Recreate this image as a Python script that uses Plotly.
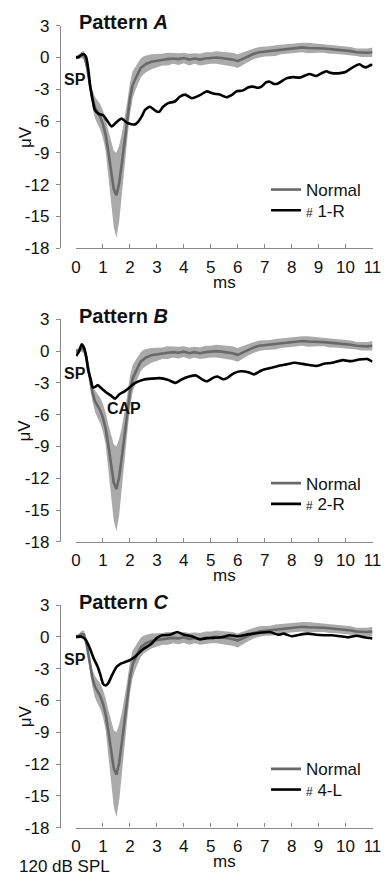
import numpy as np
import plotly.graph_objects as go

# ---------------- data ----------------
normal_ms = [0, 0.1, 0.2, 0.3, 0.4, 0.5, 0.6, 0.7, 0.8, 0.9, 1.0, 1.1, 1.2, 1.3, 1.4, 1.5,
             1.6, 1.7, 1.8, 1.9, 2.0, 2.1, 2.2, 2.3, 2.4, 2.5, 2.6, 2.8, 3.0, 3.2, 3.4,
             3.6, 3.8, 4.0, 4.2, 4.4, 4.6, 4.8, 5.0, 5.2, 5.4, 5.6, 5.8, 6.0, 6.2, 6.4,
             6.6, 6.8, 7.0, 7.2, 7.4, 7.6, 7.8, 8.0, 8.2, 8.4, 8.6, 8.8, 9.0, 9.2, 9.4,
             9.6, 9.8, 10.0, 10.2, 10.4, 10.6, 10.8, 11.0]
normal_mean = [0.0, 0.05, 0.25, 0.2, -0.8, -2.4, -3.8, -4.7, -5.2, -5.6, -6.3, -7.3, -8.9,
               -10.8, -12.4, -13.0, -11.9, -10.0, -8.0, -6.0, -3.9, -2.6, -2.0, -1.5, -1.0,
               -0.75, -0.6, -0.4, -0.3, -0.2, -0.15, -0.1, -0.15, -0.05, -0.2, -0.1, -0.2,
               -0.1, -0.05, 0.0, -0.05, -0.1, -0.2, -0.35, -0.1, 0.15, 0.35, 0.5, 0.55, 0.6,
               0.65, 0.75, 0.8, 0.85, 0.9, 0.95, 0.9, 0.9, 0.9, 0.85, 0.8, 0.75, 0.7, 0.7,
               0.6, 0.5, 0.45, 0.45, 0.5]
normal_sem = [0.2, 0.2, 0.3, 0.4, 0.4, 0.6, 0.8, 1.0, 1.1, 1.2, 1.3, 1.5, 2.0, 2.8, 3.6, 4.0,
              3.6, 2.8, 2.2, 1.8, 1.5, 1.3, 1.1, 1.0, 0.9, 0.85, 0.8, 0.7, 0.6, 0.55, 0.6,
              0.5, 0.55, 0.5, 0.55, 0.5, 0.55, 0.6, 0.55, 0.6, 0.6, 0.65, 0.65, 0.65, 0.6,
              0.55, 0.5, 0.5, 0.45, 0.45, 0.5, 0.45, 0.45, 0.5, 0.45, 0.45, 0.5, 0.45, 0.45,
              0.4, 0.45, 0.4, 0.4, 0.4, 0.4, 0.35, 0.4, 0.4, 0.45]

a_ms = [0.0, 0.1, 0.2, 0.27, 0.37, 0.46, 0.52, 0.58, 0.64, 0.7, 0.83, 1.01, 1.14, 1.32, 1.5,
        1.69, 1.88, 2.06, 2.2, 2.31, 2.45, 2.56, 2.74, 2.99, 3.1, 3.23, 3.42, 3.67, 3.85,
        4.05, 4.3, 4.6, 4.84, 5.09, 5.33, 5.58, 5.8, 5.95, 6.2, 6.4, 6.57, 6.75, 6.88, 7.05,
        7.19, 7.35, 7.49, 7.8, 8.05, 8.3, 8.5, 8.67, 8.91, 9.1, 9.28, 9.45, 9.65, 9.85,
        10.02, 10.25, 10.52, 10.65, 10.76, 10.95, 11.0]
a_uv = [0.0, 0.05, 0.25, 0.33, 0.08, -1.2, -2.6, -3.5, -4.3, -4.95, -5.3, -5.45, -5.9, -6.5,
        -6.1, -5.75, -6.15, -6.3, -6.3, -6.05, -5.5, -4.95, -4.65, -5.1, -5.1, -4.65, -4.3,
        -4.15, -3.7, -3.5, -3.85, -3.55, -3.2, -3.4, -3.5, -3.75, -3.5, -3.2, -3.1, -2.8,
        -2.75, -2.85, -2.75, -2.35, -2.28, -2.5, -2.45, -1.97, -1.85, -1.9, -1.7, -1.56,
        -1.75, -1.5, -1.3, -1.45, -1.5, -1.45, -1.34, -0.95, -0.64, -0.85, -0.93, -0.7, -0.75]

b_ms = [0.0, 0.1, 0.21, 0.3, 0.37, 0.45, 0.55, 0.62, 0.7, 0.8, 0.92, 1.1, 1.3, 1.45, 1.6,
        1.8, 2.0, 2.2, 2.5, 2.8, 3.1, 3.4, 3.7, 3.9, 4.2, 4.45, 4.7, 4.85, 5.1, 5.25, 5.45,
        5.6, 5.85, 6.1, 6.4, 6.6, 6.9, 7.2, 7.5, 7.8, 8.1, 8.5, 8.9, 9.2, 9.5, 9.9, 10.2,
        10.5, 10.8, 11.0]
b_uv = [-0.45, -0.1, 0.65, 0.3, -0.4, -1.75, -2.7, -3.4, -3.4, -3.2, -3.45, -3.85, -4.2,
        -4.5, -4.1, -3.8, -3.4, -3.0, -2.7, -2.6, -2.55, -2.7, -3.0, -2.7, -2.4, -2.3, -2.7,
        -2.85, -2.5, -2.4, -2.65, -2.55, -2.1, -1.9, -2.0, -2.2, -1.8, -1.6, -1.4, -1.25,
        -1.1, -1.25, -1.4, -1.2, -1.1, -0.85, -0.95, -0.8, -0.75, -1.0]

c_ms = [0.0, 0.2, 0.35, 0.5, 0.65, 0.8, 0.9, 1.0, 1.1, 1.2, 1.35, 1.5, 1.65, 1.8, 2.0, 2.2,
        2.5, 2.8, 3.0, 3.2, 3.5, 3.75, 4.0, 4.3, 4.6, 4.8, 5.1, 5.4, 5.7, 6.0, 6.3, 6.6,
        6.9, 7.2, 7.5, 7.7, 8.0, 8.3, 8.6, 8.9, 9.2, 9.5, 9.8, 10.1, 10.4, 10.7, 11.0]
c_uv = [0.0, 0.0, -0.25, -1.0, -2.0, -2.8, -3.55, -4.4, -4.6, -4.35, -3.55, -2.85, -2.55,
        -2.4, -2.2, -1.85, -1.15, -0.65, -0.1, 0.15, 0.2, 0.45, 0.2, 0.05, -0.25, -0.15,
        -0.1, -0.05, 0.15, 0.05, 0.2, 0.3, 0.4, 0.45, 0.2, 0.3, 0.05, 0.2, 0.3, 0.2, 0.15,
        0.15, 0.05, -0.05, 0.1, -0.05, -0.15]

pattern_letters = ["A", "B", "C"]
patient_labels = ["1-R", "2-R", "4-L"]
x_tick_vals = list(range(0, 12))
x_tick_text = [str(v) for v in x_tick_vals]
y_tick_vals = [3, 0, -3, -6, -9, -12, -15, -18]
y_tick_text = ["3", "0", "-3", "-6", "-9", "-12", "-15", "-18"]

# ---------------- layout geometry ----------------
W, H = 385, 876
FONT = "Arial, Liberation Sans, sans-serif"
x0_px, x11_px, yaxis_px = 76.0, 372.5, 60.0
panel_top_px = [25.7, 319.3, 605.0]   # pixel row of y = 3
panel_h_px = 222.6                     # from y=3 to y=-18
AX_COL = "#8a8a8a"
BAND_COL = "rgb(170,170,170)"
MEAN_COL = "rgb(105,105,105)"
TXT = "#111"

def py(p):
    return 1 - p / H

fig = go.Figure()
mean = np.array(normal_mean)
sem = np.array(normal_sem)
upper = mean + sem
lower = mean - sem
patients = [(a_ms, a_uv), (b_ms, b_uv), (c_ms, c_uv)]

annotations = []
for i in range(3):
    sfx = "" if i == 0 else str(i + 1)
    xa, ya = "x" + sfx, "y" + sfx
    lg1 = "legend" if i == 0 else "legend%d" % (2 * i + 1)
    lg2 = "legend%d" % (2 * i + 2)
    top = panel_top_px[i]
    bot = top + panel_h_px

    fig.add_trace(go.Scatter(
        x=normal_ms + normal_ms[::-1], y=list(upper) + list(lower[::-1]),
        fill="toself", fillcolor=BAND_COL, line=dict(width=0, color=BAND_COL),
        mode="lines", showlegend=False, hoverinfo="skip", xaxis=xa, yaxis=ya))
    fig.add_trace(go.Scatter(
        x=normal_ms, y=normal_mean, mode="lines", name="Normal",
        line=dict(color=MEAN_COL, width=2.6), xaxis=xa, yaxis=ya, legend=lg1))
    pm, pv = patients[i]
    fig.add_trace(go.Scatter(
        x=pm, y=pv, mode="lines",
        name="<span style='font-size:12px'>#</span> " + patient_labels[i],
        line=dict(color="black", width=2.6, shape="spline", smoothing=0.6),
        xaxis=xa, yaxis=ya, legend=lg2))

    fig.layout["xaxis" + sfx] = dict(
        domain=[x0_px / W, x11_px / W], range=[0, 11], anchor=ya, automargin=False,
        tickvals=x_tick_vals, ticktext=x_tick_text, ticks="inside", ticklen=4,
        tickcolor=AX_COL, tickwidth=1.3, showline=True, linecolor=AX_COL, linewidth=1.3,
        showgrid=False, zeroline=False, tickfont=dict(size=17, color=TXT),
        ticklabelstandoff=3)
    fig.layout["yaxis" + sfx] = dict(
        domain=[py(bot), py(top)], range=[-18, 3], anchor="free", position=yaxis_px / W,
        automargin=False,
        tickvals=y_tick_vals, ticktext=y_tick_text, ticks="outside", ticklen=4,
        tickcolor=AX_COL, tickwidth=1.3, showline=True, linecolor=AX_COL, linewidth=1.3,
        showgrid=False, zeroline=False, tickfont=dict(size=17, color=TXT),
        ticklabelstandoff=3)
    for lg, row_c in ((lg1, top + 164.3), (lg2, top + 185.0)):
        fig.layout[lg] = dict(
            x=266 / W, y=py(row_c - 18), xanchor="left", yanchor="top",
            bgcolor="rgba(0,0,0,0)", font=dict(size=17, family=FONT, color=TXT),
            tracegroupgap=0, itemwidth=30)

    annotations += [
        dict(text="<b>Pattern <i>%s</i></b>" % pattern_letters[i], xref="paper", yref="paper",
             x=77 / W, y=py(top - 3.5), xanchor="left", yanchor="middle", showarrow=False,
             font=dict(size=20, family=FONT, color=TXT)),
        dict(text="<b>SP</b>", xref="paper", yref="paper", x=74.5 / W, y=py(top + 54),
             showarrow=False, xanchor="center", yanchor="middle",
             font=dict(size=16, family=FONT, color=TXT)),
        dict(text="ms", xref="paper", yref="paper", x=(x0_px + x11_px) / 2 / W,
             y=py(bot + 34), xanchor="center", yanchor="middle", showarrow=False,
             font=dict(size=17, family=FONT, color=TXT)),
        dict(text="μV", xref="paper", yref="paper", x=25 / W, y=py(top + panel_h_px / 2),
             xanchor="center", yanchor="middle", showarrow=False, textangle=-90,
             font=dict(size=17, family=FONT, color=TXT)),
    ]
    if i == 1:
        annotations.append(dict(text="<b>CAP</b>", xref=xa, yref=ya, x=1.78, y=-5.45,
                                showarrow=False, xanchor="center", yanchor="middle",
                                font=dict(size=16, family=FONT, color=TXT)))

annotations.append(dict(text="120 dB SPL", xref="paper", yref="paper", x=17 / W, y=py(866),
                        xanchor="left", yanchor="middle", showarrow=False,
                        font=dict(size=17, family=FONT, color=TXT)))

fig.update_layout(
    width=W, height=H, margin=dict(l=0, r=0, t=0, b=0, autoexpand=False),
    paper_bgcolor="white", plot_bgcolor="white",
    font=dict(family=FONT, size=17, color=TXT),
    annotations=annotations,
)

fig.write_html("out.html", config={"responsive": False, "displayModeBar": False},
               post_script="document.body.style.margin='0px';document.body.style.overflow='hidden';")
